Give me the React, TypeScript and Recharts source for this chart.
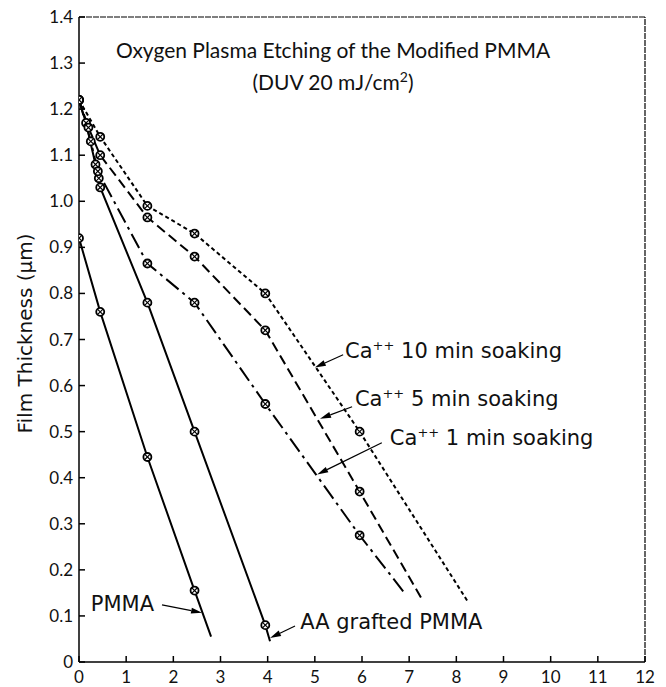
import React from 'react'
import { LineChart, Line, XAxis, YAxis, ReferenceLine, ReferenceDot, Label } from 'recharts'

const FONT = 'Lato, "DejaVu Sans", sans-serif'
const WIDE = '"DejaVu Sans", sans-serif'

const xTicks = [0, 1, 2, 3, 4, 5, 6, 7, 8, 9, 10, 11, 12]
const yTicks = [0, 0.1, 0.2, 0.3, 0.4, 0.5, 0.6, 0.7, 0.8, 0.9, 1.0, 1.1, 1.2, 1.3, 1.4]

// etching time (min) vs film thickness (um); last point of each run is the line end, no marker
const pmmaTime = [0, 0.45, 1.45, 2.45, 2.8]
const pmmaThick = [0.92, 0.76, 0.445, 0.155, 0.055]
const aaTime = [0, 0.15, 0.35, 0.42, 0.45, 1.45, 2.45, 3.95, 4.05]
const aaThick = [1.22, 1.17, 1.08, 1.05, 1.03, 0.78, 0.5, 0.08, 0.045]
const ca1Time = [0, 0.25, 0.4, 1.45, 2.45, 3.95, 5.95, 6.9]
const ca1Thick = [1.22, 1.13, 1.065, 0.865, 0.78, 0.56, 0.275, 0.15]
const ca5Time = [0, 0.2, 0.45, 1.45, 2.45, 3.95, 5.95, 7.25]
const ca5Thick = [1.22, 1.16, 1.1, 0.965, 0.88, 0.72, 0.37, 0.14]
const ca10Time = [0, 0.45, 1.45, 2.45, 3.95, 5.95, 8.25]
const ca10Thick = [1.22, 1.14, 0.99, 0.93, 0.8, 0.5, 0.13]

const toRows = (xs: number[], ys: number[]) => xs.map((x, i) => ({ x, y: ys[i] }))

const series = [
  { name: 'PMMA', data: toRows(pmmaTime, pmmaThick), dash: undefined },
  { name: 'AA grafted PMMA', data: toRows(aaTime, aaThick), dash: undefined },
  { name: 'Ca++ 1 min', data: toRows(ca1Time, ca1Thick), dash: '16 5 3 5' },
  { name: 'Ca++ 5 min', data: toRows(ca5Time, ca5Thick), dash: '10 5' },
  { name: 'Ca++ 10 min', data: toRows(ca10Time, ca10Thick), dash: '4 3' },
]

// annotation text (label start, vertical centre) and leader lines (from -> arrow tip)
const notes = [
  { sup: true, text: ' 10 min soaking', at: [5.64, 0.674], from: [5.6, 0.667], to: [5.0, 0.639] },
  { sup: true, text: ' 5 min soaking', at: [5.85, 0.57], from: [5.79, 0.554], to: [5.11, 0.528] },
  { sup: true, text: ' 1 min soaking', at: [6.59, 0.487], from: [6.42, 0.476], to: [5.05, 0.407] },
  { sup: false, text: 'PMMA', at: [0.25, 0.126], from: [1.76, 0.124], to: [2.61, 0.107] },
  { sup: false, text: 'AA grafted PMMA', at: [4.69, 0.087], from: [4.58, 0.078], to: [4.05, 0.052] },
]

const makeDot = (count: number) => (props: any) => {
  const { cx, cy, index } = props
  if (index === count - 1 || cx == null) return <g key={`d-${index}`} />
  const r = 4
  const d = r * 0.7
  return (
    <g key={`d-${index}`}>
      <circle cx={cx} cy={cy} r={r} fill="#fff" stroke="#000" strokeWidth={1.8} />
      <line x1={cx - d} y1={cy - d} x2={cx + d} y2={cy + d} stroke="#000" strokeWidth={1.2} />
      <line x1={cx - d} y1={cy + d} x2={cx + d} y2={cy - d} stroke="#000" strokeWidth={1.2} />
    </g>
  )
}

const XTick = (props: any) => {
  const { x, y, payload } = props
  return (
    <g>
      <line x1={x} y1={y} x2={x} y2={y - 6} stroke="#000" strokeWidth={1.5} />
      <text x={x} y={y + 21} textAnchor="middle" fontSize={17} fontFamily={FONT} fill="#111">
        {payload.value}
      </text>
    </g>
  )
}

const YTick = (props: any) => {
  const { x, y, payload } = props
  const v = payload.value
  return (
    <g>
      <line x1={x} y1={y} x2={x + 6} y2={y} stroke="#000" strokeWidth={1.5} />
      <text x={x - 6} y={y + 6} textAnchor="end" fontSize={17} fontFamily={FONT} fill="#111">
        {v === 0 ? '0' : v.toFixed(1)}
      </text>
    </g>
  )
}

const Leader = (props: any) => {
  const { x1, y1, x2, y2 } = props
  const a = Math.atan2(y2 - y1, x2 - x1)
  const len = 11
  const w = 3
  const bx = x2 - len * Math.cos(a)
  const by = y2 - len * Math.sin(a)
  const px = -Math.sin(a) * w
  const py = Math.cos(a) * w
  return (
    <g>
      <line x1={x1} y1={y1} x2={bx} y2={by} stroke="#000" strokeWidth={1.2} />
      <polygon points={`${x2},${y2} ${bx + px},${by + py} ${bx - px},${by - py}`} fill="#000" />
    </g>
  )
}

const noteText = (n: typeof notes[number]) => (props: any) => {
  const { cx, cy } = props
  return (
    <text x={cx} y={cy + 7} fontSize={21} fontFamily={WIDE} fill="#111">
      {n.sup ? (
        <>
          Ca<tspan dy={-8} fontSize={13}>++</tspan>
          <tspan dy={8}>{n.text}</tspan>
        </>
      ) : (
        n.text
      )}
    </text>
  )
}

const yLabel = (props: any) => {
  const { viewBox } = props
  const cx = viewBox.x + 25
  const cy = viewBox.y + viewBox.height / 2 - 6
  return (
    <text
      x={cx}
      y={cy}
      transform={`rotate(-90 ${cx} ${cy})`}
      textAnchor="middle"
      dominantBaseline="central"
      fontSize={20}
      fontFamily={WIDE}
      fill="#111"
    >
      Film Thickness (μm)
    </text>
  )
}

const App = () => {
  return (
    <div style={{ position: 'absolute', left: 0, top: 0, width: 666, height: 687, background: '#fff' }}>
      <LineChart width={666} height={687} margin={{ top: 17, right: 21, bottom: 0, left: 0 }}>
        <XAxis
          type="number"
          dataKey="x"
          domain={[0, 12]}
          ticks={xTicks}
          height={25}
          tickSize={0}
          tickMargin={0}
          tickLine={false}
          tick={<XTick />}
          axisLine={{ stroke: '#000', strokeWidth: 1.5 }}
          allowDataOverflow
        />
        <YAxis
          type="number"
          dataKey="y"
          domain={[0, 1.4]}
          ticks={yTicks}
          width={79}
          tickSize={0}
          tickMargin={0}
          tickLine={false}
          tick={<YTick />}
          axisLine={{ stroke: '#000', strokeWidth: 1.5 }}
          allowDataOverflow
        >
          <Label content={yLabel} />
        </YAxis>
        <ReferenceLine y={1.4} stroke="#000" strokeWidth={1.2} strokeDasharray="6 1" />
        <ReferenceLine x={12} stroke="#000" strokeWidth={1.2} strokeDasharray="6 1" />
        {series.map((s) => (
          <Line
            key={s.name}
            name={s.name}
            data={s.data}
            dataKey="y"
            type="linear"
            stroke="#000"
            strokeWidth={2}
            strokeDasharray={s.dash}
            dot={makeDot(s.data.length)}
            activeDot={false}
            isAnimationActive={false}
          />
        ))}
        {notes.map((n, i) => (
          <ReferenceLine
            key={`l-${i}`}
            segment={[
              { x: n.from[0], y: n.from[1] },
              { x: n.to[0], y: n.to[1] },
            ]}
            shape={<Leader />}
          />
        ))}
        {notes.map((n, i) => (
          <ReferenceDot key={`t-${i}`} x={n.at[0]} y={n.at[1]} r={0} shape={noteText(n)} />
        ))}
      </LineChart>
      <div
        style={{
          position: 'absolute',
          left: 0,
          top: 38,
          width: 666,
          textAlign: 'center',
          fontFamily: FONT,
          fontSize: 21,
          lineHeight: '24px',
          color: '#111',
        }}
      >
        Oxygen Plasma Etching of the Modified PMMA
      </div>
      <div
        style={{
          position: 'absolute',
          left: 0,
          top: 70,
          width: 666,
          textAlign: 'center',
          fontFamily: FONT,
          fontSize: 21,
          lineHeight: '24px',
          color: '#111',
        }}
      >
        (DUV 20 mJ/cm<sup style={{ fontSize: 14, lineHeight: 0 }}>2</sup>)
      </div>
    </div>
  )
}

export default App
